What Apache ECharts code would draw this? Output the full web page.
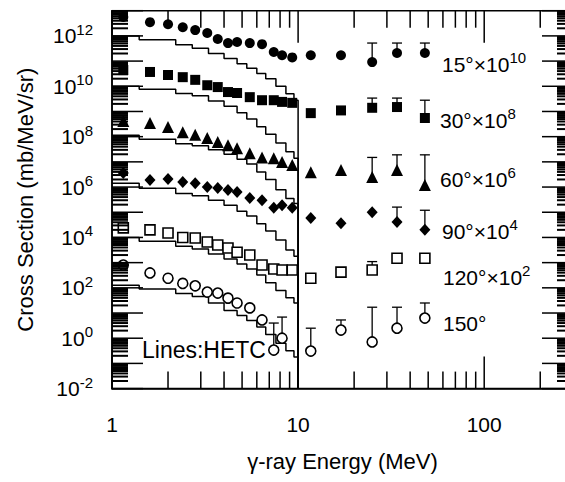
<!DOCTYPE html>
<html><head><meta charset="utf-8">
<script src="https://cdn.jsdelivr.net/npm/echarts/dist/echarts.min.js"></script>
<style>html,body{margin:0;padding:0;background:#fff}#c{width:565px;height:482px}</style>
</head><body><div id="c"></div>
<script>
// ---------- data ----------
const energies = [1.15, 1.6, 2.0, 2.4, 2.8, 3.25, 3.7, 4.2, 4.7, 5.5, 6.4, 7.4, 8.2, 9.3, 11.7, 17, 25, 34, 48];
// plotted (already scaled) cross sections, mb/MeV/sr
const deg15  = [5.6e12, 3.5e12, 2.9e12, 2.2e12, 1.7e12, 1.3e12, 7.5e11, 5.2e11, 5.7e11, 5.2e11, 4.7e11, 2.3e11, 1.7e11, 1.4e11, 1.7e11, 1.7e11, 9.1e10, 2.1e11, 2.1e11];
const deg30  = [4.4e10, 3.7e10, 2.8e10, 2.3e10, 1.8e10, 1.1e10, 9.3e9, 5.9e9, 5.4e9, 3.7e9, 2.8e9, 2.8e9, 2.4e9, 2.2e9, 8.6e8, 1.1e9, 1.4e9, 1.5e9, 5.5e8];
const deg60  = [4.2e8, 3.5e8, 2.4e8, 1.5e8, 1.2e8, 8.8e7, 6.1e7, 4.6e7, 3.5e7, 2.2e7, 1.5e7, 1.4e7, 9.8e6, 7.5e6, 3.9e6, 4.7e6, 2.5e6, 4.7e6, 1.2e6];
const deg90  = [3.6e6, 1.9e6, 2.1e6, 1.6e6, 1.4e6, 1.0e6, 9.1e5, 7.6e5, 6.3e5, 3.7e5, 3.0e5, 1.5e5, 1.9e5, 1.5e5, 5.9e4, 3.7e4, 1.0e5, 4.1e4, 2.0e4];
const deg120 = [2.4e4, 2.0e4, 1.5e4, 1.0e4, 9.5e3, 6.6e3, 5.0e3, 3.8e3, 2.6e3, 2.0e3, 8.0e2, 5.6e2, 5.1e2, 5.1e2, 2.4e2, 4.2e2, 5.1e2, 1.5e3, 1.5e3];
const deg150 = [8.0e2, 3.9e2, 2.4e2, 1.5e2, 1.2e2, 68, 62, 39, 25, 16, 5.3, 0.34, 1.0, null, 0.31, 2.1, 0.71, 2.5, 6.3];
// upper ends of error bars
const err15  = [null,null,null,null,null,null,null,null,null,null,null,null,null,null,null,null, 5.2e11, 5.2e11, 5.2e11];
const err30  = [null,null,null,null,null,null,null,null,null,null,null,null,null,null,null,null, 3.4e9, 3.4e9, 2.8e9];
const err60  = [null,null,null,null,null,null,null,null,null,null,null,null,null,null,null,null, 1.5e7, 1.9e7, 1.9e7];
const err90  = [null,null,null,null,null,null,null,null,null,null,null,null,null,null,null,null, null, 1.6e5, 1.2e5];
const err120 = [null,null,null,null,null,null,null,null,null,null,null,null,null,null,null,null, 1.1e3, null, null];
const err150 = [null,null,null,null,null,null,null,null,null,null,null, 4.0, 6.9, null, 2.5, 5.3, 17, 17, 25];
// HETC histograms (bin edges in MeV, one value per bin)
const hetcEdges = [1, 1.4, 2.2, 2.7, 3.3, 4.0, 4.7, 5.3, 6.0, 6.7, 7.6, 8.6, 9.5, 10];
const hetc15  = [1.0e12, 7.1e11, 4.5e11, 3.2e11, 2.0e11, 1.26e11, 7.9e10, 5.2e10, 3.2e10, 2.0e10, 1.0e10, 5.0e9, 2.8e9];
const hetc30  = [1.0e10, 7.6e9, 5.2e9, 4.2e9, 2.6e9, 1.6e9, 8.9e8, 5.0e8, 2.5e8, 1.26e8, 5.6e7, 2.5e7, 1.4e7];
const hetc60  = [1.15e8, 7.9e7, 5.2e7, 4.4e7, 3.0e7, 2.0e7, 1.26e7, 8.3e6, 4.0e6, 2.0e6, 7.9e5, 3.5e5, 2.2e5];
const hetc90  = [1.4e6, 8.9e5, 5.6e5, 4.5e5, 3.0e5, 1.9e5, 1.1e5, 7.1e4, 3.5e4, 1.8e4, 7.9e3, 3.2e3, 1.8e3];
const hetc120 = [1.0e4, 7.1e3, 4.5e3, 3.5e3, 2.2e3, 1.4e3, 890, 560, 320, 160, 79, 40, 25];
const hetc150 = [126, 89, 60, 45, 25, 12.6, 7.9, 5.0, 2.8, 1.4, 0.63, 0.32, 0.18];
// axes
const X_MIN = 1, X_MAX = 300, Y_MIN = 1e-2, Y_MAX = 1e13;
const xMajorTicks = [1, 10, 100];
const xTickLabels = ['1', '10', '100'];
const xMinorTicks = [2,3,4,5,6,7,8,9,20,30,40,50,60,70,80,90,200];
const yMajorExps = [-2,-1,0,1,2,3,4,5,6,7,8,9,10,11,12,13];
const yLabelExps = [-2,0,2,4,6,8,10,12];
const minorMult = [2,3,4,5,6,7,8,9];
// annotations
const angleNames = ['15°×10', '30°×10', '60°×10', '90°×10', '120°×10', '150°'];
const angleSups  = ['10', '8', '6', '4', '2', ''];
const annoPos = [[442, 64], [440, 120], [440, 179], [442, 231], [443, 277], [443, 323]];

// ---------- build ----------
const FONT = '"Liberation Sans", Arial, Helvetica, sans-serif';
const RICH = {
  b: {fontSize: 21, fontFamily: FONT, lineHeight: 28, fill: '#000', color: '#000'},
  s: {fontSize: 15, fontFamily: FONT, lineHeight: 15, verticalAlign: 'top', fill: '#000', color: '#000'}
};

function pts(vals) {
  const out = [];
  energies.forEach((e, i) => { if (vals[i] != null) out.push([e, vals[i]]); });
  return out;
}
function errPts(vals, errs) {
  const out = [];
  energies.forEach((e, i) => { if (vals[i] != null && errs[i] != null) out.push([e, vals[i], errs[i]]); });
  return out;
}
function hist(vals) {
  const d = [];
  vals.forEach((v, i) => { d.push([hetcEdges[i], v]); d.push([hetcEdges[i + 1], v]); });
  d.push([hetcEdges[hetcEdges.length - 1], Y_MIN]);
  return d;
}

const sets = [
  {v: deg15,  e: err15,  h: hetc15,  symbol: 'circle',   size: 10, open: false},
  {v: deg30,  e: err30,  h: hetc30,  symbol: 'rect',     size: 10, open: false},
  {v: deg60,  e: err60,  h: hetc60,  symbol: 'triangle', size: 12, open: false},
  {v: deg90,  e: err90,  h: hetc90,  symbol: 'diamond',  size: [11, 12], open: false},
  {v: deg120, e: err120, h: hetc120, symbol: 'rect',     size: 10, open: true},
  {v: deg150, e: err150, h: hetc150, symbol: 'circle',   size: 10, open: true}
];

function renderErr(params, api) {
  const p = api.coord([api.value(0), api.value(1)]);
  const q = api.coord([api.value(0), api.value(2)]);
  const st = {stroke: '#000', lineWidth: 1.3};
  return {type: 'group', children: [
    {type: 'line', shape: {x1: p[0], y1: p[1], x2: q[0], y2: q[1]}, style: st},
    {type: 'line', shape: {x1: q[0] - 5, y1: q[1], x2: q[0] + 5, y2: q[1]}, style: st}
  ]};
}

function renderFrame(params, api) {
  const cs = params.coordSys;
  const L = cs.x, R = cs.x + cs.width, T = cs.y, B = cs.y + cs.height;
  const kids = [];
  const seg = (x1, y1, x2, y2, w) => kids.push({type: 'line', shape: {x1, y1, x2, y2}, style: {stroke: '#000', lineWidth: w || 1.5}});
  xMajorTicks.forEach((v, i) => {
    const x = api.coord([v, Y_MIN])[0];
    seg(x, B, x, B - 32); seg(x, T, x, T + 32);
    kids.push({type: 'text', x: x, y: B + 25, style: {text: xTickLabels[i], font: '21px ' + FONT, fill: '#000', align: 'center', verticalAlign: 'top'}});
  });
  xMinorTicks.forEach(v => {
    const x = api.coord([v, Y_MIN])[0];
    seg(x, B, x, B - 17); seg(x, T, x, T + 17);
  });
  yMajorExps.forEach(k => {
    const y = api.coord([X_MIN, Math.pow(10, k)])[1];
    seg(L, y, L + 31, y); seg(R, y, R - 31, y);
    if (k < 13) {
      minorMult.forEach(m => {
        const ym = api.coord([X_MIN, m * Math.pow(10, k)])[1];
        seg(L, ym, L + 16, ym, 2); seg(R, ym, R - 16, ym, 2);
      });
    }
  });
  yLabelExps.forEach(k => {
    const y = api.coord([X_MIN, Math.pow(10, k)])[1];
    kids.push({type: 'text', x: L - 19, y: y, style: {text: '{b|10}{s|' + k + '}', rich: RICH, fill: '#000', align: 'right', verticalAlign: 'middle'}});
  });
  return {type: 'group', children: kids};
}

const series = [];
sets.forEach(s => {
  series.push({type: 'line', data: hist(s.h), symbol: 'none', showSymbol: false, silent: true, z: 2,
    lineStyle: {color: '#000', width: 1.5}, animation: false});
});
sets.forEach(s => {
  const ep = errPts(s.v, s.e);
  if (ep.length) series.push({type: 'custom', renderItem: renderErr, data: ep, encode: {x: 0, y: 1}, z: 3, animation: false, silent: true});
});
sets.forEach(s => {
  series.push({type: 'scatter', data: pts(s.v), symbol: s.symbol, symbolSize: s.size, z: 4, animation: false,
    itemStyle: s.open ? {color: '#fff', borderColor: '#000', borderWidth: 1.6, opacity: 1} : {color: '#000', opacity: 1}});
});
series.push({type: 'custom', renderItem: renderFrame, data: [[X_MIN, Y_MIN]], encode: {x: 0, y: 1}, z: 5, silent: true, animation: false});

const graphic = angleNames.map((n, i) => ({
  type: 'text', x: annoPos[i][0], y: annoPos[i][1], z: 10,
  style: {text: '{b|' + n + '}' + (angleSups[i] ? '{s|' + angleSups[i] + '}' : ''), rich: RICH, fill: '#000', align: 'left', verticalAlign: 'middle'}
}));
graphic.push({type: 'text', x: 142, y: 350, z: 10,
  style: {text: 'Lines:HETC', font: '23px ' + FONT, fill: '#000', align: 'left', verticalAlign: 'middle'}});

const chart = echarts.init(document.getElementById('c'), null, {renderer: 'svg'});
chart.setOption({
  backgroundColor: '#fff',
  animation: false,
  grid: {left: 112, top: 10.7, right: -8, bottom: 93.4, show: true, borderColor: '#000', borderWidth: 1.5, backgroundColor: 'transparent', outerBoundsMode: 'none'},
  xAxis: {type: 'log', min: X_MIN, max: X_MAX, logBase: 10,
    name: 'γ-ray Energy (MeV)', nameLocation: 'middle', nameGap: 62,
    nameTextStyle: {fontSize: 22, fontFamily: FONT, color: '#000'},
    axisLine: {show: true, lineStyle: {color: '#000', width: 1.5}},
    axisTick: {show: false}, axisLabel: {show: false}, splitLine: {show: false}, minorTick: {show: false}},
  yAxis: {type: 'log', min: Y_MIN, max: Y_MAX, logBase: 10,
    name: 'Cross Section (mb/MeV/sr)', nameLocation: 'middle', nameGap: 76, nameRotate: 90,
    nameTextStyle: {fontSize: 22, fontFamily: FONT, color: '#000'},
    axisLine: {show: true, lineStyle: {color: '#000', width: 1.5}},
    axisTick: {show: false}, axisLabel: {show: false}, splitLine: {show: false}, minorTick: {show: false}},
  series: series,
  graphic: graphic
});
</script></body></html>
